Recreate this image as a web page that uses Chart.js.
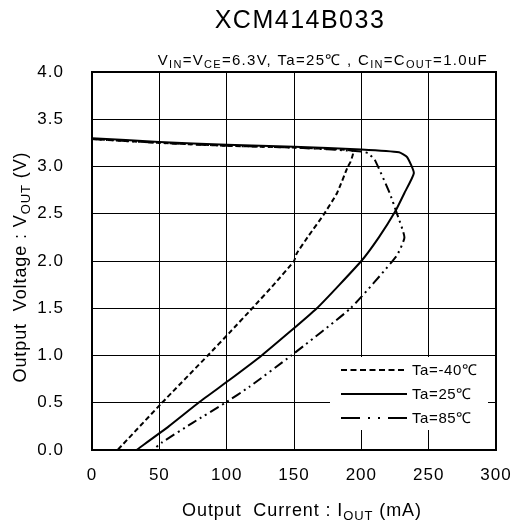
<!DOCTYPE html>
<html>
<head>
<meta charset="utf-8">
<script src="https://cdn.jsdelivr.net/npm/chart.js@4.4.1/dist/chart.umd.min.js"></script>
<style>
  html, body { margin: 0; padding: 0; background: #fff; }
  #wrap { width: 513px; height: 522px; }
</style>
</head>
<body>
<div id="wrap"><canvas id="voutChart" width="513" height="522"></canvas></div>
<script>
// Output current (mA) / output voltage (V)
const currentM40 = [0, 50, 100, 150, 185, 194, 192, 190, 182, 172, 161, 152, 150, 135, 119, 102, 86, 52, 19];
const voltageM40 = [3.29, 3.25, 3.22, 3.20, 3.18, 3.16, 3.05, 3.00, 2.72, 2.49, 2.27, 2.08, 2.00, 1.75, 1.50, 1.24, 1.00, 0.50, 0.00];

const current25 = [0, 50, 100, 150, 200, 228, 234, 239, 232, 225, 213, 200, 167, 126, 102, 80, 57, 33];
const voltage25 = [3.30, 3.26, 3.23, 3.21, 3.18, 3.15, 3.10, 2.93, 2.72, 2.52, 2.25, 2.00, 1.50, 1.00, 0.74, 0.51, 0.25, 0.00];

const current85 = [0, 50, 100, 150, 200, 205, 210, 221, 226, 232, 226, 192, 148, 117, 99, 75, 52, 45];
const voltage85 = [3.29, 3.25, 3.22, 3.20, 3.16, 3.14, 3.07, 2.72, 2.52, 2.25, 2.05, 1.50, 1.00, 0.67, 0.50, 0.29, 0.08, 0.00];

const seriesLabels = ['Ta=-40℃', 'Ta=25℃', 'Ta=85℃'];

const FONT = '"Liberation Sans", Arial, sans-serif';

function toPoints(xs, ys) {
    return xs.map((x, i) => ({ x: x, y: ys[i] }));
}

// draws a run of text pieces, some of them subscripted
function drawRich(ctx, parts, x, y, size, align, spacing) {
    const subSize = Math.round(size * 0.7);
    ctx.letterSpacing = spacing + 'px';
    let total = 0;
    parts.forEach(p => {
        ctx.font = (p[1] ? subSize : size) + 'px ' + FONT;
        total += ctx.measureText(p[0]).width;
    });
    let cx = x;
    if (align === 'center') cx = x - total / 2;
    if (align === 'right') cx = x - total;
    ctx.textAlign = 'left';
    ctx.textBaseline = 'alphabetic';
    parts.forEach(p => {
        ctx.font = (p[1] ? subSize : size) + 'px ' + FONT;
        ctx.fillText(p[0], cx, p[1] ? y + size * 0.22 : y);
        cx += ctx.measureText(p[0]).width;
    });
    ctx.letterSpacing = '0px';
}

const textPlugin = {
    id: 'textPlugin',
    beforeDraw(chart) {
        // the original lettering is a bit wider than Arial
        chart.ctx.letterSpacing = '1px';
    },
    afterDatasetsDraw(chart) {
        const ctx = chart.ctx;
        const area = chart.chartArea;
        ctx.save();

        // legend inside the plot, white box over the grid
        const bx = area.right - 166, by = area.bottom - 93;
        ctx.fillStyle = '#fff';
        ctx.fillRect(bx, by, 158, 73);
        const dashes = [[6, 3.5], [], [19, 8, 2, 8, 2, 8]];
        seriesLabels.forEach((lab, i) => {
            const ly = by + 13 + i * 24;
            ctx.strokeStyle = '#000';
            ctx.lineWidth = 2;
            ctx.setLineDash(dashes[i]);
            ctx.beginPath();
            ctx.moveTo(bx + 11, ly);
            ctx.lineTo(bx + 77, ly);
            ctx.stroke();
            ctx.setLineDash([]);
            ctx.fillStyle = '#000';
            ctx.font = '15px ' + FONT;
            ctx.letterSpacing = '0.6px';
            ctx.textAlign = 'left';
            ctx.textBaseline = 'middle';
            ctx.fillText(lab, bx + 82, ly + 1);
        });

        // plot frame
        ctx.lineWidth = 2;
        ctx.strokeStyle = '#000';
        ctx.strokeRect(area.left, area.top, area.right - area.left, area.bottom - area.top);
        ctx.restore();
    },
    afterDraw(chart) {
        const ctx = chart.ctx;
        ctx.save();
        ctx.fillStyle = '#000';

        ctx.font = '25px ' + FONT;
        ctx.letterSpacing = '1.5px';
        ctx.textAlign = 'center';
        ctx.textBaseline = 'alphabetic';
        ctx.fillText('XCM414B033', 300, 28);

        drawRich(ctx, [['V', false], ['IN', true], ['=V', false], ['CE', true],
            ['=6.3V, Ta=25℃ , C', false], ['IN', true], ['=C', false], ['OUT', true],
            ['=1.0uF', false]], 488, 65, 15, 'right', 1.3);

        drawRich(ctx, [['Output  Current : I', false], ['OUT', true], [' (mA)', false]],
            302, 516, 18, 'center', 0.9);

        ctx.translate(26, 267);
        ctx.rotate(-Math.PI / 2);
        drawRich(ctx, [['Output  Voltage : V', false], ['OUT', true], [' (V)', false]],
            0, 0, 18, 'center', 0.9);
        ctx.restore();
        ctx.letterSpacing = '0px';
    }
};

const lineStyle = {
    borderColor: '#000',
    backgroundColor: '#000',
    borderWidth: 2,
    pointRadius: 0,
    showLine: true,
    fill: false,
    tension: 0.15
};

new Chart(document.getElementById('voutChart').getContext('2d'), {
    type: 'scatter',
    data: {
        datasets: [
            Object.assign({ label: seriesLabels[0], data: toPoints(currentM40, voltageM40), borderDash: [5, 3] }, lineStyle),
            Object.assign({ label: seriesLabels[2], data: toPoints(current85, voltage85), borderDash: [10, 4, 2, 4, 2, 4] }, lineStyle),
            Object.assign({ label: seriesLabels[1], data: toPoints(current25, voltage25) }, lineStyle)
        ]
    },
    options: {
        responsive: false,
        animation: false,
        devicePixelRatio: 1,
        layout: { padding: { left: 0, right: 17, top: 72, bottom: 0 } },
        plugins: {
            legend: { display: false },
            title: { display: false },
            tooltip: { enabled: false }
        },
        scales: {
            x: {
                type: 'linear',
                min: 0,
                max: 300,
                ticks: {
                    stepSize: 50,
                    color: '#000',
                    padding: 15,
                    font: { family: FONT, size: 17 }
                },
                grid: { color: '#000', lineWidth: 1, drawTicks: false },
                border: { display: false },
                afterFit: (scale) => {
                    scale.height = 72;
                    scale.paddingLeft = 0;
                    scale.paddingRight = 0;
                }
            },
            y: {
                min: 0,
                max: 4,
                ticks: {
                    stepSize: 0.5,
                    color: '#000',
                    padding: 28,
                    font: { family: FONT, size: 17 },
                    callback: (v) => v.toFixed(1)
                },
                grid: { color: '#000', lineWidth: 1, drawTicks: false },
                border: { display: false },
                afterFit: (scale) => {
                    scale.width = 92;
                    scale.paddingTop = 0;
                    scale.paddingBottom = 0;
                }
            }
        }
    },
    plugins: [textPlugin]
});
</script>
</body>
</html>
